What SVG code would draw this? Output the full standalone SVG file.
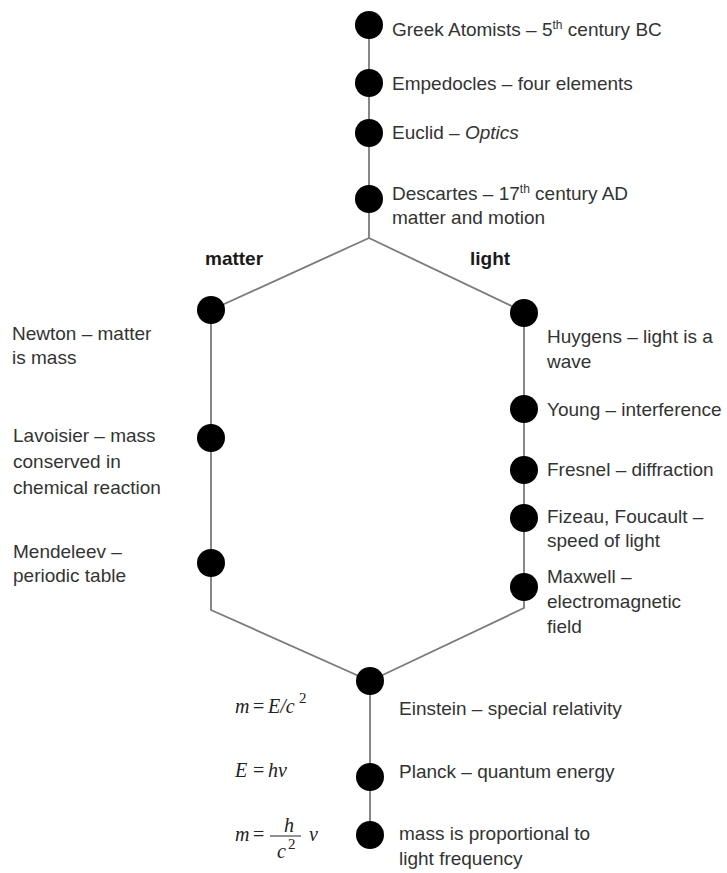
<svg xmlns="http://www.w3.org/2000/svg" width="727" height="873" viewBox="0 0 727 873">
<style>
.bg{fill:#ffffff}
.c{fill:none;stroke:#7a7a7a;stroke-width:1.8}
.d{fill:#000000}
.t{font-family:"Liberation Sans",Arial,sans-serif;font-size:19px;fill:#333333}
.b{font-family:"Liberation Sans",Arial,sans-serif;font-size:19px;font-weight:bold;fill:#1a1a1a}
.sup{font-size:12px}
.m{font-family:"Liberation Serif","Times New Roman",serif;font-size:20px;font-style:italic;fill:#222222}
.mu{font-family:"Liberation Serif","Times New Roman",serif;font-size:20px;fill:#222222}
.ms{font-family:"Liberation Serif","Times New Roman",serif;font-size:15px;fill:#222222}
</style>
<rect class="bg" x="0" y="0" width="727" height="873"/>
<g id="connectors">
<path class="c" d="M369,25 L369,238"/>
<path class="c" d="M369,238 L211,310"/>
<path class="c" d="M369,238 L524,312"/>
<path class="c" d="M211,310 L211,610 L370,681"/>
<path class="c" d="M524,312 L524,608 L370,681"/>
<path class="c" d="M370,681 L370,835"/>
</g>
<g id="greek"><circle class="d" cx="369" cy="25" r="14"/><text class="t" x="392" y="36">Greek Atomists – 5<tspan class="sup" dy="-7">th</tspan><tspan dy="7"> century BC</tspan></text></g>
<g id="empedocles"><circle class="d" cx="369" cy="83" r="14"/><text class="t" x="392" y="90">Empedocles – four elements</text></g>
<g id="euclid"><circle class="d" cx="369" cy="133" r="14"/><text class="t" x="392" y="139">Euclid – <tspan font-style="italic">Optics</tspan></text></g>
<g id="descartes"><circle class="d" cx="369" cy="199" r="14"/><text class="t" x="392" y="200">Descartes – 17<tspan class="sup" dy="-7">th</tspan><tspan dy="7"> century AD</tspan></text><text class="t" x="392" y="224">matter and motion</text></g>
<g id="label-matter"><text class="b" x="205" y="265">matter</text></g>
<g id="label-light"><text class="b" x="470" y="265">light</text></g>
<g id="newton"><circle class="d" cx="211" cy="310" r="14"/><text class="t" x="12" y="340">Newton – matter</text><text class="t" x="12" y="364">is mass</text></g>
<g id="lavoisier"><circle class="d" cx="211" cy="438" r="14"/><text class="t" x="13" y="442">Lavoisier – mass</text><text class="t" x="13" y="468">conserved in</text><text class="t" x="13" y="494">chemical reaction</text></g>
<g id="mendeleev"><circle class="d" cx="211" cy="563" r="14"/><text class="t" x="13" y="558">Mendeleev –</text><text class="t" x="13" y="582">periodic table</text></g>
<g id="huygens"><circle class="d" cx="524" cy="313" r="14"/><text class="t" x="547" y="343">Huygens – light is a</text><text class="t" x="547" y="368">wave</text></g>
<g id="young"><circle class="d" cx="524" cy="409" r="14"/><text class="t" x="547" y="416">Young – interference</text></g>
<g id="fresnel"><circle class="d" cx="524" cy="470" r="14"/><text class="t" x="547" y="476">Fresnel – diffraction</text></g>
<g id="fizeau"><circle class="d" cx="524" cy="518" r="14"/><text class="t" x="547" y="523">Fizeau, Foucault –</text><text class="t" x="547" y="547">speed of light</text></g>
<g id="maxwell"><circle class="d" cx="524" cy="587" r="14"/><text class="t" x="547" y="583">Maxwell –</text><text class="t" x="547" y="608">electromagnetic</text><text class="t" x="547" y="633">field</text></g>
<g id="einstein"><circle class="d" cx="370" cy="681" r="14"/><text class="t" x="399" y="715">Einstein – special relativity</text>
<text class="m" x="235" y="713">m</text><text class="mu" x="253" y="713">=</text><text class="m" x="268" y="713">E/c</text><text class="ms" x="299" y="703">2</text></g>
<g id="planck"><circle class="d" cx="370" cy="777" r="14"/><text class="t" x="399" y="778">Planck – quantum energy</text>
<text class="m" x="235" y="777">E</text><text class="mu" x="253" y="777">=</text><text class="m" x="268" y="777">hν</text></g>
<g id="mass-light"><circle class="d" cx="370" cy="835" r="14"/><text class="t" x="399" y="840">mass is proportional to</text><text class="t" x="399" y="865">light frequency</text>
<text class="m" x="235" y="841">m</text><text class="mu" x="253" y="841">=</text><text class="m" x="284" y="832">h</text><line x1="270" y1="836" x2="301" y2="836" stroke="#222222" stroke-width="1"/><text class="m" x="277" y="858">c</text><text class="ms" x="288" y="849">2</text><text class="m" x="309" y="841">ν</text></g>
</svg>
